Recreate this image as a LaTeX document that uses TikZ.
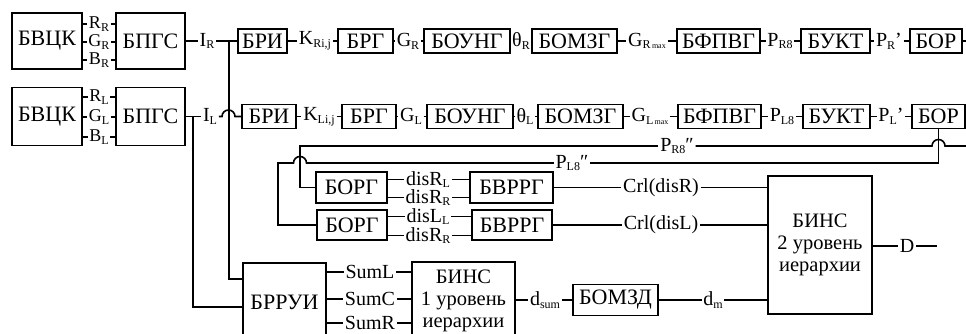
\documentclass[tikz,border=0pt]{standalone}
\usepackage{fontspec}
\setmainfont{Liberation Serif}
\newcommand{\sbs}[1]{\raisebox{-0.3ex}{\fontsize{12}{12}\selectfont #1}}
\newcommand{\smx}{{\fontsize{8}{8}\selectfont\,max}}
\begin{document}
\begin{tikzpicture}[x=1pt,y=-1pt,line width=1.6pt,
  blk/.style={draw,line width=1.6pt,inner sep=0pt,font=\fontsize{22}{24}\selectfont},
  bigblk/.style={draw,line width=1.6pt,inner sep=0pt,align=center,font=\fontsize{20.5}{22}\selectfont},
  lbl/.style={inner sep=1pt,font=\fontsize{20}{22}\selectfont},
  slbl/.style={inner sep=1pt,font=\fontsize{18}{19}\selectfont}]
\useasboundingbox (0,0) rectangle (966,333);
\clip (0,0) rectangle (966,333);
% left blocks
\node[blk,minimum width=70pt,minimum height=56pt] (bvck1) at (47,41) {БВЦК};
\node[blk,minimum width=69pt,minimum height=56pt] (bpgs1) at (150.5,41) {БПГС};
\node[blk,minimum width=70pt,minimum height=58pt] (bvck2) at (47,116.5) {БВЦК};
\node[blk,minimum width=69pt,minimum height=58pt] (bpgs2) at (150.5,116.5) {БПГС};
\node[slbl] (rR) at (99,24) {R\sbs{R}};
\node[slbl] (gR) at (99,42) {G\sbs{R}};
\node[slbl] (bR) at (99,60) {B\sbs{R}};
\node[slbl] (rL) at (99,97) {R\sbs{L}};
\node[slbl] (gL) at (99,117) {G\sbs{L}};
\node[slbl] (bL) at (99,137) {B\sbs{L}};
\foreach \n/\a/\b in {rR/bvck1/bpgs1,gR/bvck1/bpgs1,bR/bvck1/bpgs1,rL/bvck2/bpgs2,gL/bvck2/bpgs2,bL/bvck2/bpgs2}
  \draw (\a.east |- \n) -- (\n) -- (\b.west |- \n);
% top row
\foreach \nm/\cx/\w/\t in {bri1/262.5/49/БРИ,brg1/365.5/55/БРГ,boung1/467/86/БОУНГ,bomzg1/574.5/85/БОМЗГ,bfpvg1/718.5/83/БФПВГ,bukt1/835.5/69/БУКТ,bor1/936/52/БОР}
  \node[blk,minimum width=\w pt,minimum height=24pt] (\nm) at (\cx,41) {\t};
\foreach \nm/\cx/\w/\t in {bri2/269/54/БРИ,brg2/369/54/БРГ,boung2/470/86/БОУНГ,bomzg2/580.5/85/БОМЗГ,bfpvg2/719.5/83/БФПВГ,bukt2/836.5/67/БУКТ,bor2/938.5/53/БОР}
  \node[blk,minimum width=\w pt,minimum height=24pt] (\nm) at (\cx,116.5) {\t};
\node[lbl] (iR) at (207,41) {I\sbs{R}};
\node[lbl] (iL) at (210,116.5) {I\sbs{L}};
\node[lbl] (kR) at (315,41) {K\sbs{Ri,j}};
\node[lbl] (g2R) at (408,41) {G\sbs{R}};
\node[lbl] (thR) at (521,41) {θ\sbs{R}};
\node[lbl] (gmR) at (647,41) {G\sbs{R\smx}};
\node[lbl] (p8R) at (780,41) {P\sbs{R8}};
\node[lbl] (ppR) at (889,41) {P\sbs{R}’};
\node[lbl] (kL) at (319,116.5) {K\sbs{Li,j}};
\node[lbl] (g2L) at (411,116.5) {G\sbs{L}};
\node[lbl] (thL) at (525,116.5) {θ\sbs{L}};
\node[lbl] (gmL) at (650,116.5) {G\sbs{L\smx}};
\node[lbl] (p8L) at (782,116.5) {P\sbs{L8}};
\node[lbl] (ppL) at (891,116.5) {P\sbs{L}’};
\coordinate (outR) at (966,41);
\coordinate (jR) at (229,41);
\coordinate (jL) at (193,116.5);
\draw (bpgs1) -- (iR) -- (bri1) -- (kR) -- (brg1) -- (g2R) -- (boung1) -- (thR) -- (bomzg1) -- (gmR) -- (bfpvg1) -- (p8R) -- (bukt1) -- (ppR) -- (bor1) -- (outR);
\draw (bpgs2) -- (iL);
\draw (iL) -- (222,116.5) arc (180:360:6.5) -- (bri2);
\draw (bri2) -- (kL) -- (brg2) -- (g2L) -- (boung2) -- (thL) -- (bomzg2) -- (gmL) -- (bfpvg2) -- (p8L) -- (bukt2) -- (ppL) -- (bor2);
% middle blocks
\node[blk,minimum width=71pt,minimum height=31pt] (borg1) at (351.5,187.5) {БОРГ};
\node[blk,minimum width=83pt,minimum height=31pt] (bvrrg1) at (511.5,187.5) {БВРРГ};
\node[blk,minimum width=70pt,minimum height=30pt] (borg2) at (352,225) {БОРГ};
\node[blk,minimum width=80pt,minimum height=30pt] (bvrrg2) at (512,225) {БВРРГ};
\node[lbl] (dRL) at (428,179.5) {disR\sbs{L}};
\node[lbl] (dRR) at (428,197.5) {disR\sbs{R}};
\node[lbl] (dLL) at (428,216.5) {disL\sbs{L}};
\node[lbl] (dRR2) at (428,235.5) {disR\sbs{R}};
\foreach \n/\a/\b in {dRL/borg1/bvrrg1,dRR/borg1/bvrrg1,dLL/borg2/bvrrg2,dRR2/borg2/bvrrg2}
  \draw (\a.east |- \n) -- (\n) -- (\b.west |- \n);
\node[bigblk,minimum width=104pt,minimum height=138pt] (bins2) at (820,245) {БИНС\\2 уровень\\иерархии};
\node[lbl] (crlR) at (661,187.5) {Crl(disR)};
\node[lbl] (crlL) at (661,225) {Crl(disL)};
\draw (bvrrg1) -- (crlR) -- (bins2.west |- crlR);
\draw (bvrrg2) -- (crlL) -- (bins2.west |- crlL);
\node[lbl] (pR8b) at (677,146) {P\sbs{R8}″};
\node[lbl] (pL8b) at (572,163) {P\sbs{L8}″};
\draw (borg1.west) -| (300,146) -- (pR8b);
\draw (pR8b) -- (932,146) arc (180:360:6.5) -- (966,146);
\draw (bor2.south) -- (938.5,163) -- (pL8b);
\draw (pL8b) -- (306.5,163) arc (0:-180:6.5) -- (278,163) -- (278,225) -- (borg2.west);
% bottom blocks
\node[blk,minimum width=83pt,minimum height=78pt] (brrui) at (284.5,302) {БРРУИ};
\node[bigblk,minimum width=103pt,minimum height=78pt] (bins1) at (463.5,301) {БИНС\\1 уровень\\иерархии};
\node[blk,minimum width=85pt,minimum height=31pt] (bomzd) at (615.5,300) {БОМЗД};
\draw (jR) |- ([yshift=23pt]brrui.west);
\draw (jL) |- ([yshift=-5pt]brrui.west);
\node[lbl] (sL) at (370,272) {SumL};
\node[lbl] (sC) at (370,299) {SumC};
\node[lbl] (sR) at (370,323) {SumR};
\foreach \n in {sL,sC,sR}
  \draw (brrui.east |- \n) -- (\n) -- (bins1.west |- \n);
\node[lbl] (dsum) at (545,300) {d\sbs{sum}};
\node[lbl] (dm) at (713,300) {d\sbs{m}};
\draw (bins1.east |- dsum) -- (dsum) -- (bomzd);
\draw (bomzd) -- (dm) -- (bins2.west |- dm);
\node[lbl] (dd) at (907,246) {D};
\coordinate (dend) at (937,246);
\draw (bins2.east |- dd) -- (dd) -- (dend);
\end{tikzpicture}
\end{document}
